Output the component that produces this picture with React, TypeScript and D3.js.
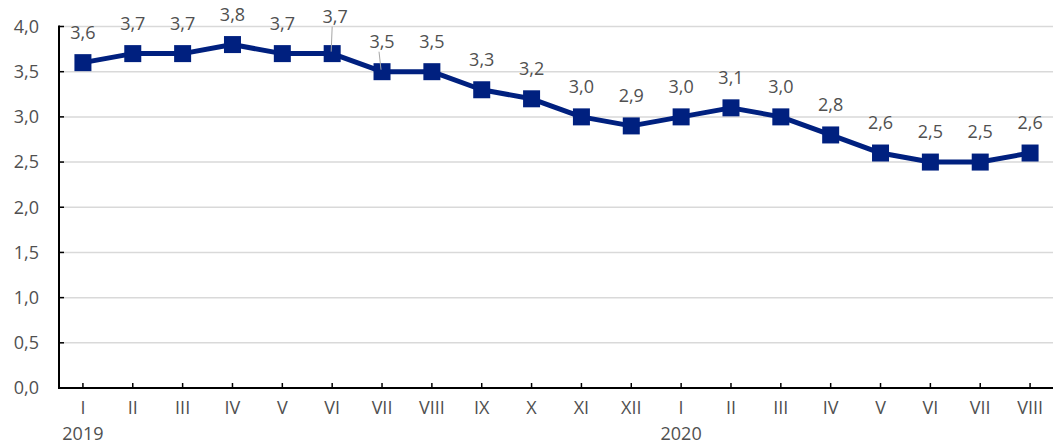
import { useEffect } from "react";
import * as d3 from "d3";

const months = ["I", "II", "III", "IV", "V", "VI", "VII", "VIII", "IX", "X", "XI", "XII",
  "I", "II", "III", "IV", "V", "VI", "VII", "VIII"];
const values = [3.6, 3.7, 3.7, 3.8, 3.7, 3.7, 3.5, 3.5, 3.3, 3.2, 3.0, 2.9,
  3.0, 3.1, 3.0, 2.8, 2.6, 2.5, 2.5, 2.6];
const years = [{ label: "2019", index: 0 }, { label: "2020", index: 12 }];
const yTicks = [0, 0.5, 1, 1.5, 2, 2.5, 3, 3.5, 4];

const width = 1053;
const height = 444;
const margin = { top: 26.5, right: 0, bottom: 56, left: 59 };
const font = "'Open Sans', 'Noto Sans', sans-serif";
const navy = "#00207f";
const grey = "#505050";
const fs = 18;
const fmt = (v: number) => v.toFixed(1).replace(".", ",");

// labels that were nudged off their point, with leader lines
const labelNudge: Record<number, [number, number]> = { 5: [3, -7] };
const leaders = new Set([5, 6]);

export default function App() {
  useEffect(() => {
    document.body.style.margin = "0";
  }, []);

  const idx = months.map((_, i) => i);
  const x = d3.scaleBand<number>()
    .domain(idx)
    .range([margin.left - 1, width + 2])
    .padding(0);
  const cx = (i: number) => x(i)! + x.bandwidth() / 2;
  const y = d3.scaleLinear().domain([0, 4]).range([height - margin.bottom, margin.top]);

  const line = d3.line<number>().x((_, i) => cx(i)).y(d => y(d));
  const plotRight = width;
  const base = y(0);

  return (
    <svg width={width} height={height} style={{ display: "block", fontFamily: font }}>
      {yTicks.filter(t => t > 0).map(t => (
        <line key={t} x1={margin.left} x2={plotRight} y1={y(t)} y2={y(t)} stroke="#d9d9d9" strokeWidth={1.5} />
      ))}
      {yTicks.map(t => (
        <g key={"yt" + t}>
          <line x1={margin.left} x2={margin.left + 5} y1={y(t)} y2={y(t)} stroke="#000" strokeWidth={1.5} />
          <text x={39} y={y(t)} dy="0.35em" textAnchor="end" fontSize={fs} fill={grey}>{fmt(t)}</text>
        </g>
      ))}
      <line x1={margin.left} x2={margin.left} y1={y(4) - 1} y2={base + 1} stroke="#000" strokeWidth={2} />
      <line x1={margin.left} x2={plotRight} y1={base} y2={base} stroke="#000" strokeWidth={2} />
      {idx.map(i => (
        <g key={"xt" + i}>
          <line x1={cx(i)} x2={cx(i)} y1={base} y2={base - 5} stroke="#000" strokeWidth={1.5} />
          <text x={cx(i)} y={base + 20} dy="0.35em" textAnchor="middle" fontSize={fs} fill={grey}>{months[i]}</text>
        </g>
      ))}
      {years.map(yr => (
        <text key={yr.label} x={cx(yr.index)} y={base + 45.5} dy="0.35em" textAnchor="middle" fontSize={fs} fill={grey}>{yr.label}</text>
      ))}
      <path d={line(values) ?? ""} fill="none" stroke={navy} strokeWidth={5} strokeLinejoin="round" />
      {values.map((v, i) => (
        <rect key={"m" + i} x={cx(i) - 8.5} y={y(v) - 8.5} width={17} height={17} fill={navy} />
      ))}
      {values.map((v, i) => {
        const [dx, dy] = labelNudge[i] ?? [0, 0];
        const lx = cx(i) + dx;
        const ly = y(v) - 30 + dy;
        return (
          <g key={"l" + i}>
            {leaders.has(i) && (
              <line x1={lx - 3} y1={ly + 10} x2={cx(i) - 1} y2={y(v) - 2} stroke="#a6a6a6" strokeWidth={1} />
            )}
            <text x={lx} y={ly} dy="0.35em" textAnchor="middle" fontSize={fs} fill={grey}>{fmt(v)}</text>
          </g>
        );
      })}
    </svg>
  );
}
